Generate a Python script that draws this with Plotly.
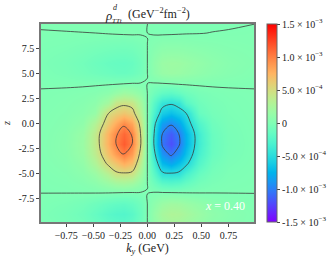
import math
import plotly.graph_objects as go

ky = [-0.99,-0.75,-0.6,-0.48,-0.36,-0.29,-0.22,-0.14,-0.06,0,0.06,0.14,0.22,0.29,0.36,0.48,0.6,0.75,0.99]
z_vals = [-9.85,-9,-8,-7,-6,-5,-4,-3,-2,-1,0,1,2,3,4,5,6,7,8,9,9.9]
# rho in units of 1e-4, rows from z=-9.85 to z=9.9
rho = [
 [-.1,-.4,-.7,-1.2,-1.8,-2.0,-2.1,-1.8,-.9,-.001,1,1.9,2.3,2.2,1.9,1.3,.7,.4,.12],
 [-.15,-.5,-.9,-1.5,-2.2,-2.5,-2.6,-2.2,-1.1,-.001,1.2,2.3,2.8,2.7,2.3,1.6,.9,.5,.15],
 [-.1,-.3,-.6,-1,-1.5,-1.7,-1.8,-1.5,-.8,-.001,.8,1.6,2.0,1.9,1.6,1.1,.6,.3,.1],
 [-.0015,-.008,-.025,-.055,-.14,-.23,-.3,-.28,-.17,-.001,.17,.3,.32,.25,.16,.06,.025,.006,.001],
 [.02,.1,.3,.65,1.4,1.9,2.1,1.8,.9,.001,-.9,-1.9,-2.2,-1.95,-1.4,-.6,-.25,-.07,-.02],
 [.05,.25,.7,1.5,3.2,4.6,4.75,4.5,2.1,.001,-2.1,-4.6,-4.8,-4.6,-3.2,-1.4,-.55,-.18,-.04],
 [.1,.4,1.1,2.7,5.4,6.5,7.6,6.8,3.2,.001,-3.2,-7,-8,-6.8,-5.4,-2.5,-.9,-.3,-.08],
 [.15,.55,1.5,3.6,6.8,8.7,10.2,8.7,4.3,.001,-4.3,-9,-10.5,-9,-6.8,-3.3,-1.3,-.45,-.1],
 [.15,.6,1.6,3.9,7.6,10,11.5,10,5,.001,-5,-10.4,-12,-10.4,-7.6,-3.7,-1.4,-.5,-.12],
 [.12,.55,1.5,3.8,7.5,9.7,11,9.8,4.8,.001,-4.8,-10,-11.5,-10,-7.5,-3.6,-1.3,-.45,-.1],
 [.1,.4,1.0,3,6.2,8,9.6,8.3,4.2,.001,-4.2,-8.6,-9.7,-8.4,-6.2,-2.8,-1,-.35,-.1],
 [.08,.28,.6,1.3,5.0,5.9,6.5,5.8,3.0,.001,-3.0,-6.0,-6.8,-6.0,-5.0,-1.4,-.6,-.25,-.08],
 [.05,.2,.4,.8,2.2,4.2,4.6,4.3,2.2,.001,-2.2,-4.3,-4.8,-4.3,-2.3,-.9,-.4,-.2,-.06],
 [.04,.11,.2,.33,.74,1.35,1.9,1.6,.9,.001,-.9,-1.7,-2.0,-1.5,-.96,-.42,-.22,-.11,-.04],
 [-.05,-.09,-.11,-.11,-.13,-.15,-.1,-.002,.03,.001,-.03,.002,.1,.17,.17,.14,.12,.09,.05],
 [-.15,-.35,-.6,-.85,-1.1,-1.25,-1.3,-1.15,-.65,-.001,.75,1.4,1.6,1.5,1.3,.95,.65,.4,.15],
 [-.2,-.45,-.75,-1.05,-1.35,-1.45,-1.5,-1.35,-.75,-.001,.85,1.55,1.75,1.7,1.5,1.15,.8,.5,.25],
 [-.15,-.3,-.5,-.7,-.88,-.96,-1.0,-.9,-.5,-.001,.55,1.0,1.1,1.05,.95,.75,.55,.35,.2],
 [-.08,-.15,-.25,-.33,-.42,-.475,-.5,-.45,-.25,-.001,.25,.45,.5,.475,.42,.33,.28,.2,.12],
 [-.03,-.02,-.01,-.001,.037,.065,.09,.1,.06,.001,-.06,-.1,-.09,-.065,-.04,-.02,.014,.05,.1],
 [.05,.08,.1,.1,.1,.1,.1,.08,.05,.001,-.05,-.08,-.1,-.1,-.1,-.1,-.1,-.08,-.002],
]
cb_vals = [-15,-10,-5,0,5,10,15]
cb_text = ["-1.5 × 10<sup>−3</sup>","-1.0 × 10<sup>−3</sup>","-5.0 × 10<sup>−4</sup>","0",
           "5.0 × 10<sup>−4</sup>","1.0 × 10<sup>−3</sup>","1.5 × 10<sup>−3</sup>"]
x_ticks = [-0.75,-0.5,-0.25,0,0.25,0.5,0.75]
x_text = ["−0.75","−0.50","−0.25","0.00","0.25","0.50","0.75"]
y_ticks = [-7.5,-5,-2.5,0,2.5,5,7.5]
y_text = ["-7.5","-5.0","-2.5","0.0","2.5","5.0","7.5"]

def rainbow(t):
    r = abs(2*t-0.5); g = math.sin(math.pi*t); b = math.cos(math.pi*t/2)
    return f"rgb({round(255*min(r,1))},{round(255*g)},{round(255*b)})"
scale = [[i/20, rainbow(i/20)] for i in range(21)]

FONT = "Liberation Serif"
INK = "#222222"
def note(text, px, py, size, color=INK):
    return dict(text=text, xref="paper", yref="paper", x=(px-41)/213, y=(222-py)/198, showarrow=False,
                xanchor="center", yanchor="middle", font=dict(family=FONT, size=size, color=color))
fig = go.Figure()
fig.add_trace(go.Heatmap(x=ky, y=z_vals, z=rho, zmin=-15, zmax=15, zsmooth="best", colorscale=scale,
    colorbar=dict(x=1.0625, xanchor="left", xpad=0, y=0.5, yanchor="middle", ypad=0, len=1, thickness=10,
        tickmode="array", tickvals=cb_vals, ticktext=cb_text, ticks="outside", ticklen=3, tickwidth=1,
        tickcolor="#444", outlinecolor="#666", outlinewidth=1, tickfont=dict(family=FONT, size=10, color=INK)),
    hoverinfo="skip"))
fig.add_trace(go.Contour(x=ky, y=z_vals, z=rho, contours=dict(coloring="lines", start=-10, end=10, size=5),
    line=dict(color="#3a3a3a", width=0.8, smoothing=1.0), showscale=False, hoverinfo="skip",
    colorscale=[[0,"#3a3a3a"],[1,"#3a3a3a"]]))
fig.update_layout(width=335, height=260, autosize=False, margin=dict(l=41, r=81, t=24, b=38, autoexpand=False),
    paper_bgcolor="white", plot_bgcolor="white", showlegend=False,
    font=dict(family=FONT, size=10, color=INK),
    xaxis=dict(range=[-0.984,0.987], tickmode="array", tickvals=x_ticks, ticktext=x_text, ticks="outside", tickangle=0,
        automargin=False, ticklen=3, tickwidth=1, tickcolor="#444", showgrid=False, zeroline=False, showline=True, linecolor="#777",
        linewidth=1.5, mirror=True, tickfont=dict(family=FONT, size=10, color=INK),
        title=dict(text="<i>k<sub>y</sub></i> (GeV)", font=dict(family=FONT, size=12, color=INK), standoff=0)),
    yaxis=dict(range=[-9.8,9.9], tickmode="array", tickvals=y_ticks, ticktext=y_text, ticks="outside", tickangle=0,
        automargin=False, ticklen=3, tickwidth=1, tickcolor="#444", showgrid=False, zeroline=False, showline=True, linecolor="#777",
        linewidth=1.5, mirror=True, tickfont=dict(family=FONT, size=10, color=INK),
        title=dict(text="<i>z</i>", font=dict(family=FONT, size=10, color=INK), standoff=6)),
    annotations=[
        note("<i>ρ</i>", 108.5, 16, 13),
        note("<i>d</i>", 115, 8, 8),
        note("<i>TTt</i>", 117.5, 21, 7),
        note("(GeV<sup>−2</sup>fm<sup>−2</sup>)", 158.5, 14, 12),
        note("<i>x</i> = 0.40", 225, 206, 12, "white"),
    ])
fig.write_html("out.html", config=dict(displayModeBar=False),
    post_script="document.body.style.margin='0';document.documentElement.style.overflow='hidden';")
